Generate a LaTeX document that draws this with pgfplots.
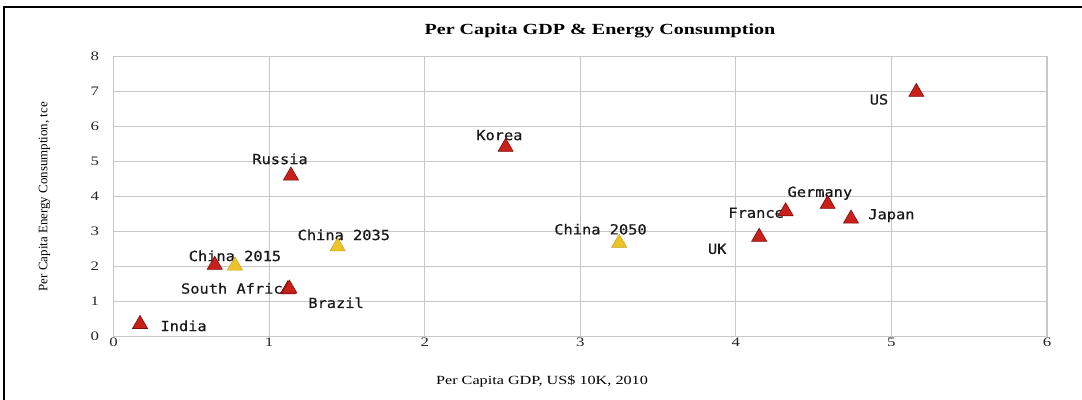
\documentclass[border=0pt]{standalone}
\usepackage{fontspec}
\setmainfont[FakeStretch=1.3]{Liberation Serif}
\newfontfamily\ylabfont{Liberation Serif}
\newfontfamily\labelfont[FakeStretch=1.1, FakeBold=0.6]{DejaVu Sans Mono}
\usepackage{pgfplots}
\pgfplotsset{compat=1.18}
\definecolor{gridgray}{RGB}{200,200,200}
\definecolor{mkred}{RGB}{200,32,26}
\definecolor{mkredline}{RGB}{125,12,10}
\definecolor{mkyellow}{RGB}{236,196,42}
\definecolor{mkyellowline}{RGB}{200,160,20}
\definecolor{labtext}{RGB}{25,25,25}

\begin{document}
\begin{tikzpicture}
\path[use as bounding box] (-113.6bp,-63.3bp) rectangle (968.4bp,336.7bp);
\draw[line width=1.8bp, black] (-109.5bp,-90bp) -- (-109.5bp,330bp) -- (1000bp,330bp);
\begin{axis}[
  at={(0,0)}, anchor=south west,
  scale only axis,
  width=933.4bp, height=280bp,
  xmin=0, xmax=6, ymin=0, ymax=8,
  xtick={0,1,2,3,4,5,6},
  ytick={0,1,2,3,4,5,6,7,8},
  grid=major,
  grid style={gridgray, line width=1.1bp},
  axis line style={gridgray, line width=1.1bp},
  major tick length=0pt,
  tick label style={font=\fontsize{13}{14}\selectfont, text=black!85},
  /pgf/number format/assume math mode=true,
  xticklabel style={yshift=2bp},
  yticklabel style={xshift=-11bp},
  clip=false,
]
% actual countries
\addplot[only marks, mark=triangle*, mark size=8.7bp,
  mark options={fill=mkred, draw=mkredline, line width=0.6bp}] coordinates {
  (0.17,0.36) (0.65,2.05) (1.12,1.35) (1.13,1.37) (1.14,4.60) (2.52,5.42)
  (4.15,2.85) (4.32,3.58) (4.59,3.79) (4.74,3.37) (5.16,6.99)};
% China projections
\addplot[only marks, mark=triangle*, mark size=8.7bp,
  mark options={fill=mkyellow, draw=mkyellowline, line width=0.5bp}] coordinates {
  (0.78,2.03) (1.44,2.58) (3.25,2.68)};

\begin{scope}[every node/.style={font=\labelfont\fontsize{14}{15}\selectfont, text=labtext, inner sep=0pt}]
\node at (axis cs:0.45,0.31) {India};
\node at (axis cs:0.78,2.31) {China 2015};
\node at (axis cs:0.79,1.38) {South Africa};
\node at (axis cs:1.43,0.97) {Brazil};
\node at (axis cs:1.48,2.91) {China 2035};
\node at (axis cs:1.07,5.08) {Russia};
\node at (axis cs:2.48,5.76) {Korea};
\node at (axis cs:3.13,3.07) {China 2050};
\node at (axis cs:4.92,6.78) {US};
\node at (axis cs:3.88,2.51) {UK};
\node at (axis cs:4.13,3.54) {France};
\node at (axis cs:4.54,4.10) {Germany};
\node at (axis cs:5.00,3.46) {Japan};
\end{scope}
\end{axis}
\node[font=\bfseries\fontsize{15.5}{17}\selectfont] at (486.4bp,305.7bp) {Per Capita GDP \& Energy Consumption};
\node[font=\fontsize{12.5}{14}\selectfont] at (428.4bp,-45bp) {Per Capita GDP, US\$ 10K, 2010};
\node[font=\ylabfont\fontsize{13}{14}\selectfont, rotate=90] at (-69bp,140bp) {Per Capita Energy Consumption, tce};
\end{tikzpicture}
\end{document}
